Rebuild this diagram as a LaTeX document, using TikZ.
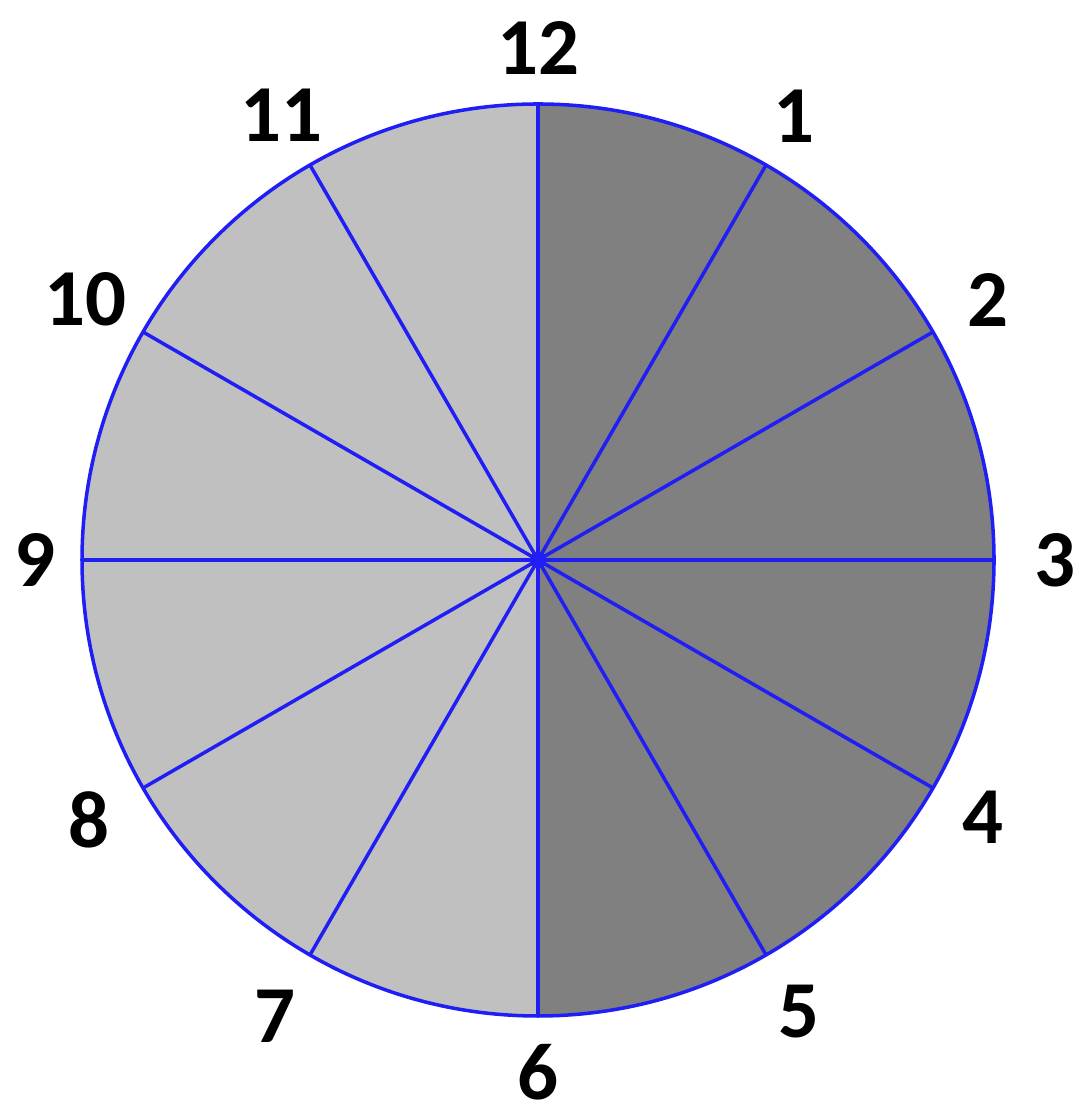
\documentclass[tikz,border=0pt]{standalone}
\usepackage{fontspec}
\setmainfont{Carlito}
\usetikzlibrary{positioning,calc}
\definecolor{rimblue}{RGB}{30,30,245}
\definecolor{darkhalf}{RGB}{128,128,128}
\definecolor{lighthalf}{RGB}{192,192,192}
\tikzset{
  spoke/.style={draw=rimblue, line width=1pt},
  hourlabel/.style={font=\fontsize{23}{27}\selectfont\bfseries, text=black, inner sep=0pt}
}

\begin{document}
\begin{tikzpicture}[scale=1.0]
    \useasboundingbox (0,0) rectangle (10.82,11.18);
    \coordinate (c) at (5.38,5.58);
    % two halves of the dial
    \fill[darkhalf] (c) ++(0,4.56) arc[start angle=90, end angle=-90, radius=4.56] -- cycle;
    \fill[lighthalf] (c) ++(0,4.56) arc[start angle=90, end angle=270, radius=4.56] -- cycle;
    \foreach \h/\d in {1/5.12,2/5.19,3/5.17,4/5.14,5/5.21,6/5.12,7/5.27,8/5.19,9/5.03,10/5.22,11/5.13,12/5.12} {
      \coordinate (r\h) at ($(c)+({90-30*\h}:4.56)$);
      \node[hourlabel] (l\h) at ($(c)+({90-30*\h}:\d)$) {\h};
      \draw[spoke] (c) -- (r\h);
    }
    \draw[spoke] (c) circle[radius=4.56];
    \fill[rimblue] (c) circle[radius=0.08];
  \end{tikzpicture}
\end{document}
